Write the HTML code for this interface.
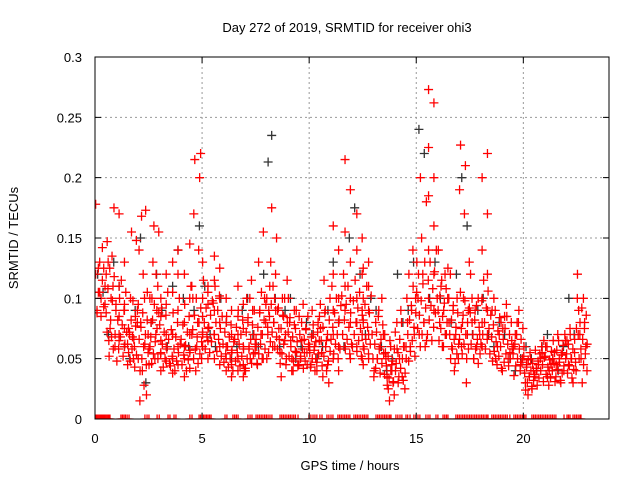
<!DOCTYPE html>
<html><head><meta charset="utf-8"><style>
body{margin:0;background:#fff;}
svg{display:block;font-family:"Liberation Sans",sans-serif;}
</style></head><body>
<svg id="chart" width="640" height="480">
<defs><clipPath id="pc"><rect x="95" y="57" width="514" height="362"/></clipPath></defs>
<text x="347" y="32" font-size="13" text-anchor="middle">Day 272 of 2019, SRMTID for receiver ohi3</text>
<text x="350" y="470" font-size="13" text-anchor="middle">GPS time / hours</text>
<text x="0" y="0" font-size="13" text-anchor="middle" transform="translate(18,238) rotate(-90)">SRMTID / TECUs</text>
<g id="grid"></g><g id="marks" clip-path="url(#pc)"></g><g id="ticks"></g>
<rect x="95" y="57" width="514" height="362" fill="none" stroke="#000" stroke-width="1"/>
</svg>
<script>
const xTicks=[0,5,10,15,20];
const yTicks=[0,0.05,0.1,0.15,0.2,0.25,0.3];
const yTickLabels=["0","0.05","0.1","0.15","0.2","0.25","0.3"];
const binWidth=0.5;
const redBins=[
[0.178,0.142,0.125,0.11,0.1,0.09,0.125,0.105],
[0.147,0.135,0.12,0.1,0.09,0.075,0.06,0.052,0.175,0.13,0.11],
[0.17,0.13,0.11,0.095,0.085,0.075,0.065,0.06,0.07,0.09],
[0.1,0.085,0.07,0.06,0.055,0.05,0.045,0.068,0.08,0.155,0.148],
[0.168,0.173,0.14,0.12,0.105,0.08,0.062,0.05,0.04,0.02,0.015,0.028,0.07],
[0.16,0.155,0.13,0.11,0.1,0.09,0.08,0.07,0.06,0.05,0.045],
[0.12,0.1,0.095,0.085,0.07,0.065,0.06,0.055,0.048,0.04],
[0.14,0.13,0.12,0.105,0.09,0.07,0.06,0.05,0.045,0.038],
[0.145,0.12,0.1,0.08,0.07,0.06,0.055,0.05,0.042,0.035],
[0.22,0.215,0.2,0.17,0.14,0.1,0.08,0.07,0.06,0.05,0.04],
[0.13,0.11,0.1,0.095,0.085,0.075,0.07,0.065,0.06,0.05],
[0.135,0.125,0.115,0.1,0.09,0.08,0.07,0.06,0.05,0.045],
[0.1,0.09,0.08,0.07,0.06,0.055,0.05,0.045,0.04,0.035],
[0.11,0.095,0.085,0.075,0.07,0.06,0.05,0.045,0.04,0.035],
[0.115,0.1,0.09,0.08,0.07,0.06,0.055,0.05,0.04],
[0.155,0.13,0.1,0.09,0.08,0.07,0.06,0.05,0.045],
[0.175,0.15,0.13,0.12,0.11,0.1,0.09,0.08,0.07,0.06,0.05],
[0.115,0.1,0.09,0.085,0.075,0.065,0.055,0.045,0.035],
[0.1,0.09,0.08,0.075,0.065,0.055,0.05,0.045,0.04],
[0.095,0.085,0.075,0.065,0.06,0.055,0.05,0.045],
[0.09,0.08,0.07,0.065,0.06,0.055,0.05,0.045,0.04],
[0.115,0.1,0.09,0.075,0.065,0.055,0.045,0.035,0.03],
[0.16,0.14,0.12,0.1,0.09,0.08,0.07,0.06,0.05,0.04],
[0.215,0.19,0.155,0.13,0.11,0.1,0.09,0.08,0.06,0.05],
[0.17,0.15,0.14,0.12,0.1,0.09,0.08,0.07,0.06,0.05],
[0.13,0.125,0.11,0.1,0.09,0.08,0.07,0.06,0.05,0.045],
[0.1,0.09,0.08,0.07,0.06,0.05,0.04],
[0.07,0.06,0.05,0.04,0.035,0.03,0.025,0.02,0.015],
[0.09,0.08,0.06,0.05,0.04,0.035,0.03,0.025],
[0.14,0.12,0.1,0.09,0.08,0.07,0.06,0.05],
[0.2,0.18,0.15,0.13,0.12,0.1,0.08,0.07,0.06],
[0.273,0.262,0.225,0.2,0.185,0.16,0.14,0.12,0.1,0.09],
[0.14,0.12,0.11,0.1,0.09,0.08,0.07,0.06],
[0.12,0.1,0.09,0.08,0.07,0.06,0.05,0.04],
[0.227,0.21,0.19,0.17,0.13,0.1,0.09,0.08,0.07,0.06,0.03],
[0.12,0.1,0.09,0.08,0.07,0.06,0.05],
[0.22,0.2,0.17,0.14,0.12,0.1,0.09,0.08,0.07,0.06],
[0.1,0.09,0.08,0.07,0.06,0.05],
[0.095,0.085,0.075,0.065,0.055,0.05],
[0.09,0.08,0.07,0.06,0.05,0.045],
[0.06,0.05,0.045,0.04,0.035,0.03,0.025,0.02],
[0.065,0.055,0.05,0.045,0.04,0.035],
[0.06,0.055,0.05,0.045,0.04,0.035],
[0.07,0.065,0.055,0.05,0.045,0.04,0.03],
[0.075,0.065,0.055,0.05,0.045,0.04,0.03],
[0.12,0.1,0.09,0.08,0.07,0.06,0.05,0.04,0.03]
];
const redBinsDense=[
[0.13,0.12,0.115,0.105,0.095,0.085,0.088,0.093],
[0.125,0.118,0.108,0.098,0.088,0.082,0.07,0.065,0.058,0.072,0.068,0.095],
[0.115,0.105,0.1,0.09,0.082,0.078,0.072,0.068,0.062,0.058,0.052,0.048],
[0.098,0.09,0.082,0.077,0.072,0.066,0.062,0.058,0.053,0.048,0.043,0.075],
[0.1,0.095,0.088,0.082,0.076,0.07,0.066,0.06,0.055,0.05,0.045,0.04],
[0.12,0.1,0.095,0.088,0.082,0.075,0.068,0.064,0.058,0.054,0.05,0.046],
[0.105,0.092,0.086,0.078,0.072,0.066,0.062,0.058,0.054,0.05,0.046,0.043],
[0.1,0.088,0.08,0.074,0.068,0.062,0.058,0.055,0.052,0.048,0.044,0.04],
[0.11,0.095,0.085,0.078,0.072,0.066,0.061,0.057,0.053,0.049,0.045,0.04],
[0.11,0.1,0.092,0.086,0.08,0.074,0.068,0.064,0.058,0.054,0.05,0.046],
[0.115,0.105,0.098,0.092,0.086,0.08,0.076,0.072,0.068,0.064,0.058,0.055],
[0.11,0.102,0.096,0.09,0.085,0.08,0.075,0.07,0.066,0.062,0.056,0.052],
[0.085,0.078,0.072,0.068,0.064,0.06,0.057,0.054,0.05,0.047,0.043,0.04],
[0.09,0.082,0.076,0.07,0.066,0.062,0.058,0.055,0.052,0.048,0.044,0.04],
[0.1,0.09,0.084,0.078,0.072,0.066,0.062,0.058,0.054,0.05,0.046,0.042],
[0.105,0.095,0.088,0.082,0.076,0.07,0.066,0.062,0.058,0.054,0.05,0.046],
[0.11,0.1,0.095,0.09,0.085,0.08,0.076,0.072,0.068,0.064,0.06,0.055],
[0.1,0.092,0.086,0.08,0.075,0.07,0.066,0.062,0.058,0.054,0.05,0.046],
[0.09,0.084,0.078,0.072,0.068,0.064,0.06,0.056,0.052,0.048,0.044,0.04],
[0.085,0.08,0.074,0.07,0.066,0.062,0.058,0.055,0.052,0.048,0.045,0.042],
[0.085,0.078,0.072,0.068,0.064,0.06,0.057,0.054,0.05,0.047,0.043,0.04],
[0.095,0.088,0.082,0.076,0.07,0.065,0.06,0.056,0.052,0.048,0.044,0.04],
[0.11,0.1,0.094,0.088,0.082,0.076,0.07,0.066,0.062,0.058,0.054,0.05],
[0.12,0.11,0.102,0.095,0.088,0.082,0.076,0.07,0.066,0.062,0.058,0.054],
[0.115,0.105,0.098,0.092,0.086,0.08,0.075,0.07,0.065,0.06,0.056,0.052],
[0.11,0.102,0.095,0.088,0.082,0.076,0.07,0.066,0.062,0.058,0.054,0.05],
[0.085,0.078,0.072,0.066,0.062,0.058,0.054,0.05,0.046,0.042,0.038,0.035],
[0.065,0.058,0.052,0.048,0.044,0.04,0.037,0.034,0.031,0.028,0.045,0.055],
[0.08,0.072,0.066,0.06,0.055,0.05,0.046,0.042,0.038,0.035,0.032,0.058],
[0.11,0.1,0.094,0.088,0.082,0.076,0.07,0.065,0.06,0.056,0.052,0.048],
[0.13,0.12,0.112,0.105,0.098,0.092,0.086,0.08,0.075,0.07,0.065,0.06],
[0.14,0.13,0.122,0.115,0.108,0.1,0.094,0.088,0.082,0.076,0.07,0.065],
[0.125,0.115,0.108,0.102,0.096,0.09,0.085,0.08,0.075,0.07,0.065,0.06],
[0.1,0.094,0.088,0.082,0.076,0.07,0.066,0.062,0.058,0.054,0.05,0.046],
[0.105,0.098,0.092,0.086,0.08,0.075,0.07,0.066,0.062,0.058,0.054,0.05],
[0.1,0.094,0.088,0.082,0.076,0.07,0.066,0.062,0.058,0.054,0.05,0.046],
[0.115,0.106,0.098,0.092,0.086,0.08,0.075,0.07,0.066,0.062,0.058,0.054],
[0.09,0.084,0.078,0.073,0.068,0.064,0.06,0.056,0.052,0.048,0.045,0.042],
[0.085,0.08,0.075,0.07,0.066,0.062,0.058,0.054,0.05,0.047,0.044,0.04],
[0.08,0.075,0.07,0.066,0.062,0.058,0.054,0.05,0.047,0.044,0.04,0.036],
[0.055,0.052,0.049,0.046,0.043,0.04,0.038,0.035,0.032,0.03,0.027,0.024],
[0.06,0.057,0.054,0.051,0.048,0.045,0.042,0.04,0.037,0.034,0.031,0.028],
[0.065,0.06,0.056,0.052,0.049,0.046,0.043,0.04,0.037,0.034,0.031,0.028],
[0.07,0.065,0.061,0.057,0.053,0.05,0.047,0.044,0.041,0.038,0.035,0.032],
[0.075,0.07,0.066,0.062,0.058,0.054,0.05,0.047,0.044,0.041,0.038,0.034],
[0.1,0.092,0.086,0.08,0.075,0.07,0.066,0.062,0.058,0.054,0.05,0.045]
];
const blackBins=[
[0.12,0.105],[0.13,0.07],[0.11,0.06],[0.09,0.05],[0.15,0.03],[0.12,0.08],[0.09,0.06],[0.14,0.11],
[0.1,0.06],[0.16,0.09],[0.11,0.07],[0.1,0.06],[0.08,0.05],[0.09,0.06],[0.1,0.07],[0.12,0.06],
[0.235,0.213,0.1],[0.09,0.06],[0.1,0.05],[0.08,0.06],[0.07,0.05],[0.09,0.06],[0.13,0.08],[0.15,0.06],
[0.175,0.12],[0.1,0.07],[0.09,0.06],[0.05,0.04],[0.12,0.08],[0.13,0.09],[0.24,0.22],[0.13,0.1],
[0.1,0.07],[0.12,0.08],[0.2,0.16],[0.09,0.07],[0.1,0.07],[0.08,0.06],[0.07,0.05],[0.05,0.04],
[0.06,0.05],[0.06,0.04],[0.07,0.05],[0.06,0.04],[0.1,0.07]
];
const zeroTimes=[0,0.05,0.1,0.15,0.2,0.25,0.3,0.35,0.4,0.45,0.5,0.55,0.6,0.65,0.7,
1.21,1.28,1.35,1.42,1.5,1.59,2.33,2.43,2.52,2.9,3.0,3.41,3.5,3.69,3.78,4.43,4.53,
4.86,4.93,5.0,5.07,5.14,5.21,5.28,5.35,5.42,6.07,6.16,6.44,6.52,6.6,6.68,7.14,7.24,7.33,
7.52,7.6,7.68,7.76,7.84,7.92,8.0,8.08,8.17,8.26,
8.64,8.72,8.8,8.88,8.96,9.04,9.12,9.2,9.28,9.36,9.48,9.99,10.08,10.18,10.27,10.36,10.5,10.6,
10.83,10.92,11.02,11.11,11.34,11.42,11.5,11.58,11.66,11.74,11.82,11.9,
12.09,12.17,12.25,12.33,12.41,12.5,12.58,12.66,12.74,
13.12,13.2,13.28,13.36,13.44,13.52,13.6,13.68,13.76,13.82,14.05,14.14,14.24,14.33,14.52,14.6,14.71,
14.89,14.98,15.08,15.17,15.45,15.55,15.64,15.92,16.01,16.25,16.33,16.41,16.48,
16.85,16.93,17.01,17.09,17.17,17.25,17.33,17.41,17.49,17.57,17.65,17.73,17.81,17.89,17.97,18.05,18.13,18.21,18.29,18.35,
18.53,18.61,18.69,18.77,18.85,18.93,19.01,19.09,19.17,19.25,19.37,19.56,19.64,19.72,19.8,19.88,19.96,20.04,20.12,
20.4,20.48,20.56,20.64,20.72,20.8,20.88,20.96,21.04,21.12,21.2,21.28,21.36,21.44,21.52,21.9,22.04,22.11,22.18,
22.32,22.4,22.48,22.56,22.64,22.69];
const X=t=>95+t*(514/24);
const Y=v=>419-v*(362/0.3);
const NS="http://www.w3.org/2000/svg";
const grid=document.getElementById('grid'),ticks=document.getElementById('ticks'),marks=document.getElementById('marks');
function mk(tag,attrs,parent){const e=document.createElementNS(NS,tag);for(const k in attrs)e.setAttribute(k,attrs[k]);parent.appendChild(e);return e;}
xTicks.forEach(t=>{
 if(t>0){const g=mk('line',{x1:X(t),x2:X(t),y1:57,y2:419,stroke:'#999','stroke-dasharray':'2,3'},grid);
 
 }
 const tk=mk('path',{d:`M${X(t)},419v-6M${X(t)},57v6`,stroke:'#000'},ticks);
 
 
 const l=mk('text',{x:X(t),y:443,'font-size':13,'text-anchor':'middle'},ticks);l.textContent=t;
 
 
});
yTicks.forEach((v,i)=>{
 if(v>0&&v<0.3){const g=mk('line',{x1:95,x2:609,y1:Y(v),y2:Y(v),stroke:'#999','stroke-dasharray':'2,3'},grid);
 
 }
 const tk=mk('path',{d:`M95,${Y(v)}h6M609,${Y(v)}h-6`,stroke:'#000'},ticks);
 
 
 const l=mk('text',{x:82,y:Y(v)+5,'font-size':13,'text-anchor':'end'},ticks);l.textContent=yTickLabels[i];
 
 
});
function cross(t,v,color,name){
 const x=X(t),y=Y(v);
 const p=mk('path',{d:`M${x-4.5},${y}h9M${x},${y-4.5}v9`,stroke:color,'stroke-width':1.3},marks);
 
 
}
function drawBins(bins,color,name,shift){
 bins.forEach((vals,b)=>{const n=vals.length;vals.forEach((v,i)=>{const j=(i*5+b)%n;cross(b*binWidth+((j+shift)%n+0.5)/n*binWidth,v,color,name);});});
}
drawBins(blackBins,'#333','black-point',0);
drawBins(redBins,'#f00','red-point',0);
drawBins(redBinsDense,'#f00','red-point',3);
zeroTimes.forEach(t=>cross(t,0,'#f00','zero-point'));
</script>
</body></html>
